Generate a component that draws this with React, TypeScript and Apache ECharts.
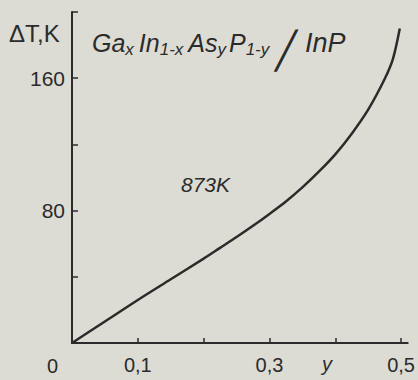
import React, { useEffect, useRef } from "react";
import * as echarts from "echarts";

// Composition y (x-axis) and temperature difference ΔT, K (y-axis)
const compositionY = [0, 0.05, 0.1, 0.15, 0.2, 0.225, 0.25, 0.275, 0.3, 0.325, 0.35, 0.375, 0.4, 0.425, 0.45, 0.475, 0.4875, 0.498];
const deltaT = [0, 13, 26, 38.5, 51, 57.5, 64, 70.8, 78, 85.5, 94, 103.5, 114, 126.5, 141, 159.5, 171.5, 190];
const xTickLabels: Record<string, string> = { "0.1": "0,1", "0.3": "0,3", "0.5": "0,5" };
const yTickLabels = [80, 160];
const curveLabel = "873K";

const INK = "#2b2b2b";
const FONT = "Liberation Sans, DejaVu Sans, sans-serif";

export default function App() {
  const ref = useRef<HTMLDivElement>(null);
  useEffect(() => {
    if (!ref.current) return;
    const chart = echarts.init(ref.current, undefined, { renderer: "svg" });
    const it = { fontFamily: FONT, fontStyle: "italic", fill: INK, lineHeight: 28 };
    chart.setOption({
      animation: false,
      backgroundColor: "#dcdcd4",
      grid: { left: 72, right: 8, top: 12, bottom: 37, containLabel: false },
      xAxis: {
        type: "value",
        min: 0,
        max: 0.51,
        interval: 0.1,
        splitLine: { show: false },
        axisLine: { lineStyle: { color: INK, width: 2 } },
        axisTick: { inside: true, length: 5, lineStyle: { color: INK, width: 1.5 } },
        axisLabel: {
          color: INK,
          fontFamily: FONT,
          fontSize: 20,
          margin: 12,
          showMaxLabel: false,
          formatter: (v: number) => xTickLabels[(Math.round(v * 10) / 10).toString()] || "",
        },
      },
      yAxis: {
        type: "value",
        min: 0,
        max: 200,
        interval: 40,
        splitLine: { show: false },
        axisLine: { lineStyle: { color: INK, width: 2 } },
        axisTick: { inside: true, length: 6, lineStyle: { color: INK, width: 1.5 } },
        axisLabel: {
          color: INK,
          fontFamily: FONT,
          fontSize: 21,
          margin: 7,
          formatter: (v: number) => (yTickLabels.includes(v) ? String(v) : ""),
        },
      },
      series: [
        {
          type: "line",
          data: compositionY.map((x, i) => [x, deltaT[i]]),
          smooth: 0.3,
          showSymbol: false,
          lineStyle: { color: INK, width: 2.5 },
        },
      ],
      graphic: [
        {
          type: "text",
          left: 9,
          top: 21,
          style: { text: "ΔT,K", fill: INK, font: `24px ${FONT}` },
        },
        {
          type: "text",
          left: 92,
          top: 18,
          style: {
            text: "{m|Ga}{s|x}{m2|In}{s|1-x}{m2|As}{s|y}{m3|P}{s|1-y}{b|╱}{m4|InP}",
            fill: INK,
            rich: {
              m: { ...it, fontSize: 25 },
              m2: { ...it, fontSize: 25, padding: [0, 0, 0, 5] },
              m3: { ...it, fontSize: 25, padding: [0, 0, 0, 3] },
              m4: { ...it, fontSize: 27, padding: [0, 0, 0, 8] },
              s: { ...it, fontSize: 17, padding: [13, 0, 0, 0] },
              b: { fontFamily: "DejaVu Sans", fontSize: 36, fill: INK, lineHeight: 28, padding: [14, 0, 0, 6] },
            },
          },
        },
        {
          type: "text",
          left: 181,
          top: 174,
          style: { text: curveLabel, fill: INK, font: `italic 21px ${FONT}` },
        },
        {
          type: "text",
          left: 47,
          top: 356,
          style: { text: "0", fill: INK, font: `20px ${FONT}` },
        },
        {
          type: "text",
          left: 322,
          top: 354,
          style: { text: "y", fill: INK, font: `italic 20px ${FONT}` },
        },
      ],
    });
    return () => chart.dispose();
  }, []);
  return <div ref={ref} style={{ position: "fixed", left: 0, top: 0, width: 418, height: 380 }} />;
}
